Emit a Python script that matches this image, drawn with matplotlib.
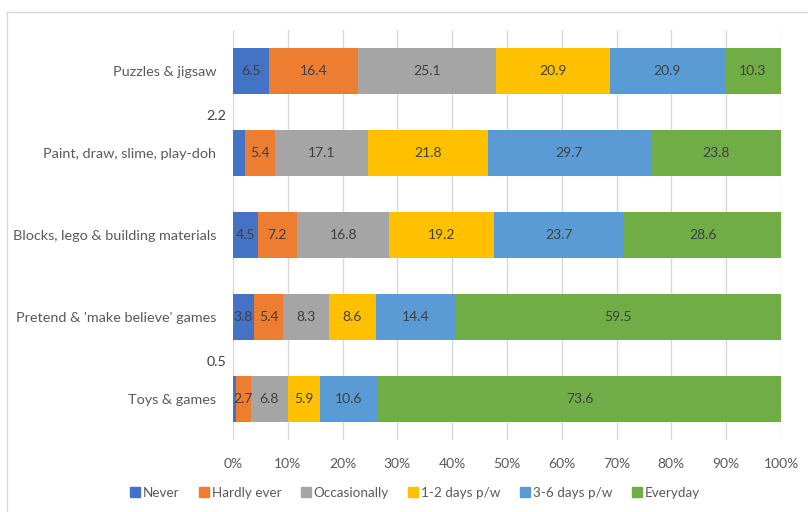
import matplotlib
matplotlib.use("Agg")
import matplotlib.pyplot as plt
from matplotlib.lines import Line2D
import numpy as np

plt.rcParams['font.family'] = ['Lato', 'DejaVu Sans']

categories = ["Puzzles & jigsaw", "Paint, draw, slime, play-doh",
              "Blocks, lego & building materials", "Pretend & 'make believe' games",
              "Toys & games"]
series_names = ["Never", "Hardly ever", "Occasionally", "1-2 days p/w", "3-6 days p/w", "Everyday"]
never = [6.5, 2.2, 4.5, 3.8, 0.5]
hardly_ever = [16.4, 5.4, 7.2, 5.4, 2.7]
occasionally = [25.1, 17.1, 16.8, 8.3, 6.8]
days_1_2 = [20.9, 21.8, 19.2, 8.6, 5.9]
days_3_6 = [20.9, 29.7, 23.7, 14.4, 10.6]
everyday = [10.3, 23.8, 28.6, 59.5, 73.6]
series = [never, hardly_ever, occasionally, days_1_2, days_3_6, everyday]
colors = ["#4472C4", "#ED7D31", "#A5A5A5", "#FFC000", "#5B9BD5", "#70AD47"]
xticks = [0, 10, 20, 30, 40, 50, 60, 70, 80, 90, 100]

fig = plt.figure(figsize=(8.08, 5.12), dpi=100)
W, H = 808, 512
ax = fig.add_axes([233 / W, 1 - 440 / H, (781 - 233) / W, (440 - 30) / H])

y = np.arange(len(categories))
bar_h = 0.57
totals = np.sum(np.array(series), axis=0)
left = np.zeros(len(categories))
for vals, col, name in zip(series, colors, series_names):
    vals = np.array(vals, dtype=float)
    widths = vals / totals * 100
    ax.barh(y, widths, left=left, height=bar_h, color=col, label=name, zorder=3)
    for i, (v, w, l) in enumerate(zip(vals, widths, left)):
        if v >= 2.5:
            ax.text(l + w / 2, y[i], f"{v:.1f}", ha='center', va='center',
                    fontsize=10, color='#404040', zorder=4)
        else:
            ax.annotate(f"{v:.1f}", xy=(0, y[i] - bar_h / 2), xycoords='data',
                        xytext=(-5, 10), textcoords='offset points',
                        ha='right', va='center', fontsize=10.3, color='#404040',
                        annotation_clip=False)
    left = left + widths

ax.set_xlim(0, 100)
ax.set_ylim(len(categories) - 0.5, -0.5)
ax.set_yticks(y)
ax.set_yticklabels(categories, fontsize=10.4, color='#595959')
ax.set_xticks(xticks)
ax.set_xticklabels([f"{t}%" for t in xticks], fontsize=10, color='#595959')
ax.tick_params(axis='y', length=0, pad=12)
ax.tick_params(axis='x', length=0, pad=13)
ax.grid(axis='x', color='#D9D9D9', linewidth=1, zorder=0)
for s in ax.spines.values():
    s.set_visible(False)

handles = [Line2D([0], [0], marker='s', color='none', markerfacecolor=c,
                  markeredgecolor=c, markersize=6.5, label=n)
           for c, n in zip(colors, series_names)]
fig.legend(handles=handles, loc='center', bbox_to_anchor=(414 / W, 1 - 493 / H),
           ncol=6, frameon=False, fontsize=9.7, handletextpad=0.1,
           columnspacing=1.3, labelcolor='#595959', handlelength=1.0)

# chart frame (top and left edges visible)
fig.add_artist(Line2D([7 / W, 7 / W], [0, 1 - 12 / H], color='#D9D9D9', lw=1,
                      transform=fig.transFigure))
fig.add_artist(Line2D([7 / W, 1], [1 - 12 / H, 1 - 12 / H], color='#D9D9D9', lw=1,
                      transform=fig.transFigure))

fig.savefig("out.png", dpi=100, facecolor='white')
